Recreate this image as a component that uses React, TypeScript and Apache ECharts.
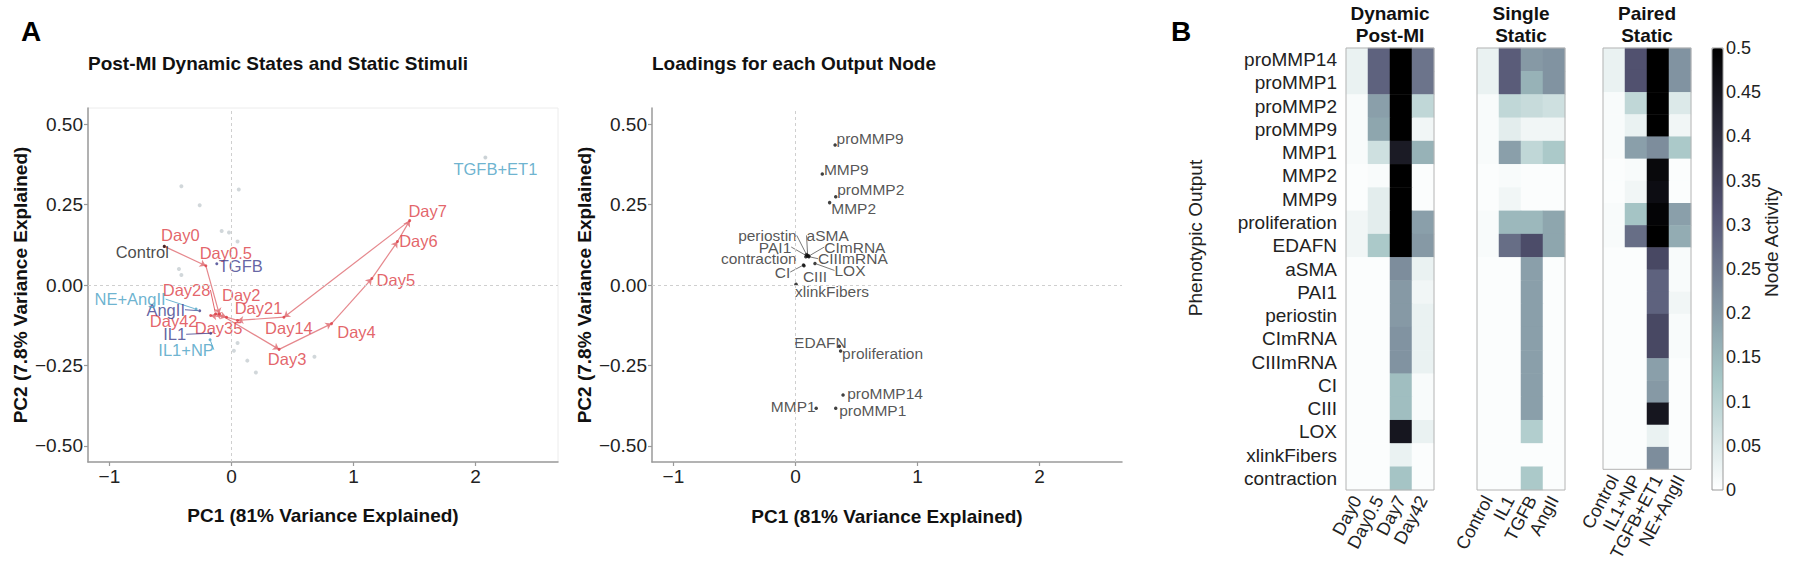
import React, { useEffect, useRef } from 'react';
import * as echarts from 'echarts';

// ---------- Panel A (left): PCA scores ----------
const dayNames = ['Day0', 'Day0.5', 'Day2', 'Day3', 'Day4', 'Day5', 'Day6', 'Day7', 'Day14', 'Day21', 'Day28', 'Day35', 'Day42'];
const dayPC1 = [-0.55, -0.21, -0.10, 0.39, 0.82, 1.15, 1.36, 1.46, 0.43, 0.05, -0.13, -0.04, -0.17];
const dayPC2 = [0.12, 0.06, -0.09, -0.20, -0.12, 0.02, 0.135, 0.20, -0.10, -0.11, -0.09, -0.10, -0.095];

const stimNames = ['Control', 'TGFB', 'AngII', 'IL1', 'NE+AngII', 'IL1+NP', 'TGFB+ET1'];
const stimPC1 = [-0.55, -0.12, -0.26, -0.17, -0.29, -0.175, 2.08];
const stimPC2 = [0.12, 0.066, -0.08, -0.15, -0.075, -0.17, 0.396];
const stimKind = ['control', 'single', 'single', 'single', 'paired', 'paired', 'paired'];

const otherPC1 = [-0.41, -0.26, 0.06, -0.08, -0.02, 0.05, -0.43, -0.41, 0.05, 0.02, 0.13, 0.2, 0.68, 2.08];
const otherPC2 = [0.307, 0.248, 0.297, 0.168, 0.163, 0.135, 0.05, 0.031, -0.18, -0.204, -0.235, -0.272, -0.223, 0.396];

// ---------- Panel A (right): loadings ----------
const nodeNames = ['proMMP9', 'MMP9', 'proMMP2', 'MMP2', 'periostin', 'aSMA', 'PAI1', 'CImRNA', 'CIIImRNA', 'contraction', 'CI', 'CIII', 'LOX', 'xlinkFibers', 'EDAFN', 'proliferation', 'proMMP14', 'proMMP1', 'MMP1'];
const loadPC1 = [0.325, 0.22, 0.33, 0.28, 0.09, 0.10, 0.095, 0.11, 0.11, 0.085, 0.066, 0.07, 0.16, 0.005, 0.36, 0.37, 0.39, 0.33, 0.17];
const loadPC2 = [0.435, 0.345, 0.274, 0.256, 0.095, 0.092, 0.09, 0.09, 0.088, 0.088, 0.062, 0.06, 0.067, 0.002, -0.19, -0.205, -0.342, -0.383, -0.383];

// ---------- Panel B: heatmaps (rows follow `outputs`) ----------
const outputs = ['proMMP14', 'proMMP1', 'proMMP2', 'proMMP9', 'MMP1', 'MMP2', 'MMP9', 'proliferation', 'EDAFN', 'aSMA', 'PAI1', 'periostin', 'CImRNA', 'CIIImRNA', 'CI', 'CIII', 'LOX', 'xlinkFibers', 'contraction'];
const dynamicCols = ['Day0', 'Day0.5', 'Day7', 'Day42'];
const singleCols = ['Control', 'IL1', 'TGFB', 'AngII'];
const pairedCols = ['Control', 'IL1+NP', 'TGFB+ET1', 'NE+AngII'];

const dynamicVals = [
  [0.03, 0.29, 0.50, 0.26],   // proMMP14
  [0.03, 0.29, 0.50, 0.26],   // proMMP1
  [0.01, 0.19, 0.50, 0.09],   // proMMP2
  [0.01, 0.18, 0.50, 0.02],   // proMMP9
  [0.01, 0.07, 0.44, 0.16],   // MMP1
  [0.005, 0.01, 0.50, 0.005], // MMP2
  [0.005, 0.04, 0.50, 0.005], // MMP9
  [0.02, 0.04, 0.50, 0.19],   // proliferation
  [0.02, 0.12, 0.50, 0.20],   // EDAFN
  [0.005, 0.005, 0.22, 0.03], // aSMA
  [0.005, 0.005, 0.20, 0.02], // PAI1
  [0.005, 0.005, 0.20, 0.03], // periostin
  [0.005, 0.005, 0.21, 0.03], // CImRNA
  [0.005, 0.005, 0.21, 0.03], // CIIImRNA
  [0.005, 0.005, 0.14, 0.01], // CI
  [0.005, 0.005, 0.14, 0.01], // CIII
  [0.005, 0.005, 0.45, 0.03], // LOX
  [0.005, 0.005, 0.03, 0.005],// xlinkFibers
  [0.005, 0.005, 0.13, 0.005],// contraction
];
const singleVals = [
  [0.03, 0.30, 0.20, 0.21],
  [0.03, 0.30, 0.16, 0.21],
  [0.01, 0.09, 0.08, 0.07],
  [0.01, 0.04, 0.02, 0.02],
  [0.01, 0.19, 0.09, 0.12],
  [0.005, 0.01, 0.005, 0.005],
  [0.005, 0.02, 0.005, 0.005],
  [0.01, 0.15, 0.15, 0.18],
  [0.01, 0.27, 0.33, 0.18],
  [0.005, 0.005, 0.19, 0.005],
  [0.005, 0.005, 0.19, 0.005],
  [0.005, 0.005, 0.19, 0.005],
  [0.005, 0.005, 0.19, 0.005],
  [0.005, 0.005, 0.19, 0.005],
  [0.005, 0.005, 0.19, 0.005],
  [0.005, 0.005, 0.19, 0.005],
  [0.005, 0.005, 0.11, 0.005],
  [0.005, 0.005, 0.005, 0.005],
  [0.005, 0.005, 0.12, 0.005],
];
const pairedVals = [
  [0.03, 0.32, 0.50, 0.21],   // proMMP14
  [0.03, 0.32, 0.50, 0.21],   // proMMP1
  [0.01, 0.09, 0.50, 0.05],   // proMMP2
  [0.01, 0.03, 0.50, 0.02],   // proMMP9
  [0.01, 0.19, 0.22, 0.12],   // MMP1
  [0.005, 0.01, 0.48, 0.005], // MMP2
  [0.005, 0.02, 0.47, 0.005], // MMP9
  [0.01, 0.13, 0.49, 0.19],   // proliferation
  [0.01, 0.27, 0.50, 0.17],   // EDAFN
  [0.005, 0.005, 0.34, 0.01], // aSMA
  [0.005, 0.005, 0.29, 0.01], // PAI1
  [0.005, 0.005, 0.29, 0.02], // periostin
  [0.005, 0.005, 0.34, 0.01], // CImRNA
  [0.005, 0.005, 0.34, 0.01], // CIIImRNA
  [0.005, 0.005, 0.19, 0.005],// CI
  [0.005, 0.005, 0.20, 0.005],// CIII
  [0.005, 0.005, 0.45, 0.005],// LOX
  [0.005, 0.005, 0.03, 0.005],// xlinkFibers
  [0.005, 0.005, 0.22, 0.005],// contraction
];
const colorbarTicks = [0, 0.05, 0.1, 0.15, 0.2, 0.25, 0.3, 0.35, 0.4, 0.45, 0.5];

// ---------- styles / layout ----------
const FONT = '"Liberation Sans", Arial, Helvetica, sans-serif';
const RED = '#dc3c44';
const DARKBLUE = '#3d3d8c';
const LIGHTBLUE = '#47a0c4';
const kindColor: Record<string, string> = { control: '#1a1a1a', single: DARKBLUE, paired: LIGHTBLUE };
const BONE_R = ['#ffffff', '#d3e3e3', '#a7c7c7', '#8ba1ab', '#707a8f', '#545474', '#38384d', '#1c1c27', '#000000'];

const HEAT_TOP = 48;
const HEAT_H = 442;

// label offsets in pixels (label centre relative to point)
const scoreLabelOffset: Record<string, [number, number]> = {
  Day0: [16, -11], 'Day0.5': [20, -13], Day2: [22, -19], Day3: [8, 10], Day4: [25, 8], Day5: [24, 1],
  Day6: [21, -1], Day7: [18, -10], Day14: [5, 11], Day21: [21, -12], Day28: [-29, -24], Day35: [-8, 11],
  Day42: [-37, 5], Control: [-22, 6], TGFB: [24, 2], AngII: [-34, -1], IL1: [-36, 1], 'NE+AngII': [-66, -10],
  'IL1+NP': [-24, 10], 'TGFB+ET1': [10, 11],
};
const scoreSegment = new Set(['NE+AngII', 'AngII', 'IL1', 'IL1+NP', 'Day28']);
const loadLabelOffset: Record<string, [number, number]> = {
  proMMP9: [35, -7], MMP9: [24, -4], proMMP2: [35, -7], MMP2: [24, 6], periostin: [-39, -19], aSMA: [20, -20],
  PAI1: [-32, -9], CImRNA: [46, -9], CIIImRNA: [44, 2], contraction: [-47, 2], CI: [-21, 7], CIII: [11, 11],
  LOX: [35, 7], xlinkFibers: [36, 7], EDAFN: [-19, -4], proliferation: [42, 3], proMMP14: [42, -2],
  proMMP1: [37, 2], MMP1: [-23, -2],
};
const loadSegment = new Set(['periostin', 'aSMA', 'PAI1', 'CImRNA', 'CIIImRNA', 'CI', 'LOX']);

const minus = (s: string) => s.replace('-', '\u2212');

function scatterAxes(gridIndex: number) {
  const axisLine = { show: true, onZero: false, lineStyle: { color: '#9a9a9a', width: 1.5 } };
  const x = {
    gridIndex, type: 'value', min: -1.175, max: 2.675,
    axisLine,
    axisTick: { show: true, customValues: [-1, 0, 1, 2], length: 4, lineStyle: { color: '#9a9a9a', width: 1.2 } },
    axisLabel: { customValues: [-1, 0, 1, 2], fontSize: 19, color: '#222', margin: 5, fontFamily: FONT, formatter: (v: number) => minus(String(v)) },
    splitLine: { show: false },
  };
  const y = {
    gridIndex, type: 'value', min: -0.55, max: 0.55,
    axisLine,
    axisTick: { show: true, customValues: [-0.5, -0.25, 0, 0.25, 0.5], length: 4, lineStyle: { color: '#9a9a9a', width: 1.2 } },
    axisLabel: { customValues: [-0.5, -0.25, 0, 0.25, 0.5], fontSize: 19, color: '#222', margin: 5, fontFamily: FONT, formatter: (v: number) => minus(v.toFixed(2)) },
    splitLine: { show: false },
  };
  return { x, y };
}

function heatAxes(gridIndex: number, cols: string[], showRows: boolean) {
  const x = {
    gridIndex, type: 'category', data: cols, position: 'bottom',
    axisLine: { show: false }, axisTick: { show: false },
    axisLabel: { rotate: 62, fontSize: 18, color: '#222', margin: 7, fontFamily: FONT, interval: 0 },
    splitLine: { show: false },
  };
  const y = {
    gridIndex, type: 'category', data: outputs, inverse: true,
    axisLine: { show: false },
    axisTick: { show: false },
    axisLabel: { show: showRows, fontSize: 19, color: '#222', margin: 9, fontFamily: FONT, interval: 0 },
    splitLine: { show: false },
  };
  return { x, y };
}

function heatData(cols: string[], vals: number[][]) {
  const out: (string | number)[][] = [];
  vals.forEach((row, r) => row.forEach((v, c) => out.push([cols[c], outputs[r], v])));
  return out;
}

export default function App() {
  const ref = useRef<HTMLDivElement>(null);
  useEffect(() => {
    if (!ref.current) return;
    const chart = echarts.init(ref.current, null, { renderer: 'svg' });

    const s0 = scatterAxes(0);
    const s1 = scatterAxes(1);
    const h1 = heatAxes(2, dynamicCols, true);
    const h2 = heatAxes(3, singleCols, false);
    const h3 = heatAxes(4, pairedCols, false);

    const zeroLines = {
      silent: true, symbol: 'none', label: { show: false },
      lineStyle: { type: [3, 3], color: '#cfcfcf', width: 1 },
      data: [{ xAxis: 0 }, { yAxis: 0 }],
    };

    const labelBase = { show: true, position: 'inside', fontFamily: FONT };

    const dayData = dayNames.map((n, i) => ({
      name: n, value: [dayPC1[i], dayPC2[i]],
      labelLine: { show: scoreSegment.has(n) },
    }));
    const stimData = stimNames.map((n, i) => ({
      name: n, value: [stimPC1[i], stimPC2[i]],
      itemStyle: { color: n === 'TGFB+ET1' ? '#c8d0d4' : kindColor[stimKind[i]] },
      label: { color: kindColor[stimKind[i]] },
      labelLine: { show: scoreSegment.has(n), lineStyle: { color: kindColor[stimKind[i]] } },
    }));
    const loadData = nodeNames.map((n, i) => ({
      name: n, value: [loadPC1[i], loadPC2[i]],
      labelLine: { show: loadSegment.has(n) },
    }));

    const trajectory = dayNames.slice(1).map((_, i) => ({
      coords: [[dayPC1[i], dayPC2[i]], [dayPC1[i + 1], dayPC2[i + 1]]],
    }));

    const heatGrid = (left: number) => ({
      left, top: HEAT_TOP, width: 88, height: HEAT_H, show: true, z: 5,
      borderColor: '#b4b4b4', borderWidth: 1, backgroundColor: 'transparent',
    });
    const heatSeries = (idx: number, cols: string[], vals: number[][]) => ({
      type: 'heatmap', xAxisIndex: idx, yAxisIndex: idx, data: heatData(cols, vals),
      itemStyle: { borderWidth: 0 }, emphasis: { disabled: true }, silent: true,
    });

    const option: any = {
      animation: false,
      backgroundColor: '#ffffff',
      textStyle: { fontFamily: FONT },
      grid: [
        { left: 88, top: 108, width: 470, height: 354, show: true, borderColor: '#ececec', borderWidth: 1, backgroundColor: 'transparent' },
        { left: 652, top: 108, width: 470, height: 354 },
        heatGrid(1346),
        heatGrid(1477),
        heatGrid(1603),
        { left: 1712, top: HEAT_TOP, width: 11, height: HEAT_H, show: true, z: 5, borderColor: '#9a9a9a', borderWidth: 1, backgroundColor: 'transparent' },
      ],
      xAxis: [s0.x, s1.x, h1.x, h2.x, h3.x, { gridIndex: 5, type: 'value', show: false }],
      yAxis: [s0.y, s1.y, h1.y, h2.y, h3.y, {
        gridIndex: 5, type: 'value', min: 0, max: 0.5, interval: 0.05, position: 'right',
        axisLine: { show: false }, axisTick: { show: false }, splitLine: { show: false },
        axisLabel: { fontSize: 18, color: '#222', margin: 3, fontFamily: FONT, customValues: colorbarTicks, formatter: (v: number) => String(+v.toFixed(2)) },
      }],
      visualMap: {
        type: 'continuous', min: 0, max: 0.5, seriesIndex: [5, 6, 7], dimension: 2,
        inRange: { color: BONE_R }, show: true, left: 1712, top: HEAT_TOP, itemWidth: 11, itemHeight: HEAT_H,
        padding: 0, calculable: false, hoverLink: false, realtime: false,
      },
      series: [
        {
          type: 'scatter', xAxisIndex: 0, yAxisIndex: 0, symbolSize: 4, z: 1,
          itemStyle: { color: '#c5cdd1' }, silent: true,
          data: otherPC1.map((x, i) => [x, otherPC2[i]]),
          markLine: zeroLines,
        },
        {
          type: 'lines', coordinateSystem: 'cartesian2d', xAxisIndex: 0, yAxisIndex: 0, z: 2,
          symbol: ['none', 'arrow'], symbolSize: 6, silent: true,
          lineStyle: { color: '#e27a7f', width: 1.2, opacity: 0.9 },
          data: trajectory,
        },
        {
          type: 'scatter', xAxisIndex: 0, yAxisIndex: 0, symbolSize: 3, z: 3,
          itemStyle: { color: RED },
          label: { ...labelBase, fontSize: 16.5, color: RED, formatter: '{b}' },
          labelLine: { show: false, lineStyle: { color: RED, width: 0.8 } },
          labelLayout: (p: any) => { const o = scoreLabelOffset[dayNames[p.dataIndex]] || [0, 0]; return { dx: o[0], dy: o[1] }; },
          data: dayData,
        },
        {
          type: 'scatter', xAxisIndex: 0, yAxisIndex: 0, symbolSize: 3, z: 4,
          label: { ...labelBase, fontSize: 16.5, formatter: '{b}' },
          labelLine: { show: false, lineStyle: { width: 0.8 } },
          labelLayout: (p: any) => { const o = scoreLabelOffset[stimNames[p.dataIndex]] || [0, 0]; return { dx: o[0], dy: o[1] }; },
          data: stimData,
        },
        {
          type: 'scatter', xAxisIndex: 1, yAxisIndex: 1, symbolSize: 3.5, z: 3,
          itemStyle: { color: '#111' },
          label: { ...labelBase, fontSize: 15.5, color: '#2a2a2a', formatter: '{b}' },
          labelLine: { show: false, lineStyle: { color: '#555', width: 0.8 } },
          labelLayout: (p: any) => { const o = loadLabelOffset[nodeNames[p.dataIndex]] || [0, 0]; return { dx: o[0], dy: o[1] }; },
          data: loadData,
          markLine: zeroLines,
        },
        heatSeries(2, dynamicCols, dynamicVals),
        heatSeries(3, singleCols, singleVals),
        heatSeries(4, pairedCols, pairedVals),
      ],
      graphic: [
        { type: 'text', x: 31, y: 31, style: { text: 'A', font: `bold 28px ${FONT}`, fill: '#000', textAlign: 'center', textVerticalAlign: 'middle' } },
        { type: 'text', x: 1181, y: 31, style: { text: 'B', font: `bold 28px ${FONT}`, fill: '#000', textAlign: 'center', textVerticalAlign: 'middle' } },
        { type: 'text', x: 88, y: 63, style: { text: 'Post-MI Dynamic States and Static Stimuli', font: `bold 19px ${FONT}`, fill: '#111', textAlign: 'left', textVerticalAlign: 'middle' } },
        { type: 'text', x: 652, y: 63, style: { text: 'Loadings for each Output Node', font: `bold 19px ${FONT}`, fill: '#111', textAlign: 'left', textVerticalAlign: 'middle' } },
        { type: 'text', x: 20, y: 285, rotation: Math.PI / 2, style: { text: 'PC2 (7.8% Variance Explained)', font: `bold 19px ${FONT}`, fill: '#111', textAlign: 'center', textVerticalAlign: 'middle' } },
        { type: 'text', x: 584, y: 285, rotation: Math.PI / 2, style: { text: 'PC2 (7.8% Variance Explained)', font: `bold 19px ${FONT}`, fill: '#111', textAlign: 'center', textVerticalAlign: 'middle' } },
        { type: 'text', x: 323, y: 515, style: { text: 'PC1 (81% Variance Explained)', font: `bold 19px ${FONT}`, fill: '#111', textAlign: 'center', textVerticalAlign: 'middle' } },
        { type: 'text', x: 887, y: 516, style: { text: 'PC1 (81% Variance Explained)', font: `bold 19px ${FONT}`, fill: '#111', textAlign: 'center', textVerticalAlign: 'middle' } },
        { type: 'text', x: 1390, y: 24, style: { text: 'Dynamic\nPost-MI', font: `bold 19px ${FONT}`, lineHeight: 22, fill: '#111', textAlign: 'center', textVerticalAlign: 'middle' } },
        { type: 'text', x: 1521, y: 24, style: { text: 'Single\nStatic', font: `bold 19px ${FONT}`, lineHeight: 22, fill: '#111', textAlign: 'center', textVerticalAlign: 'middle' } },
        { type: 'text', x: 1647, y: 24, style: { text: 'Paired\nStatic', font: `bold 19px ${FONT}`, lineHeight: 22, fill: '#111', textAlign: 'center', textVerticalAlign: 'middle' } },
        { type: 'text', x: 1195, y: 238, rotation: Math.PI / 2, style: { text: 'Phenotypic Output', font: `19px ${FONT}`, fill: '#222', textAlign: 'center', textVerticalAlign: 'middle' } },
        { type: 'text', x: 1771, y: 242, rotation: Math.PI / 2, style: { text: 'Node Activity', font: `19px ${FONT}`, fill: '#222', textAlign: 'center', textVerticalAlign: 'middle' } },
      ],
    };
    chart.setOption(option);
    return () => chart.dispose();
  }, []);
  return <div ref={ref} style={{ position: 'fixed', left: 0, top: 0, width: 1800, height: 564, background: '#fff' }} />;
}
